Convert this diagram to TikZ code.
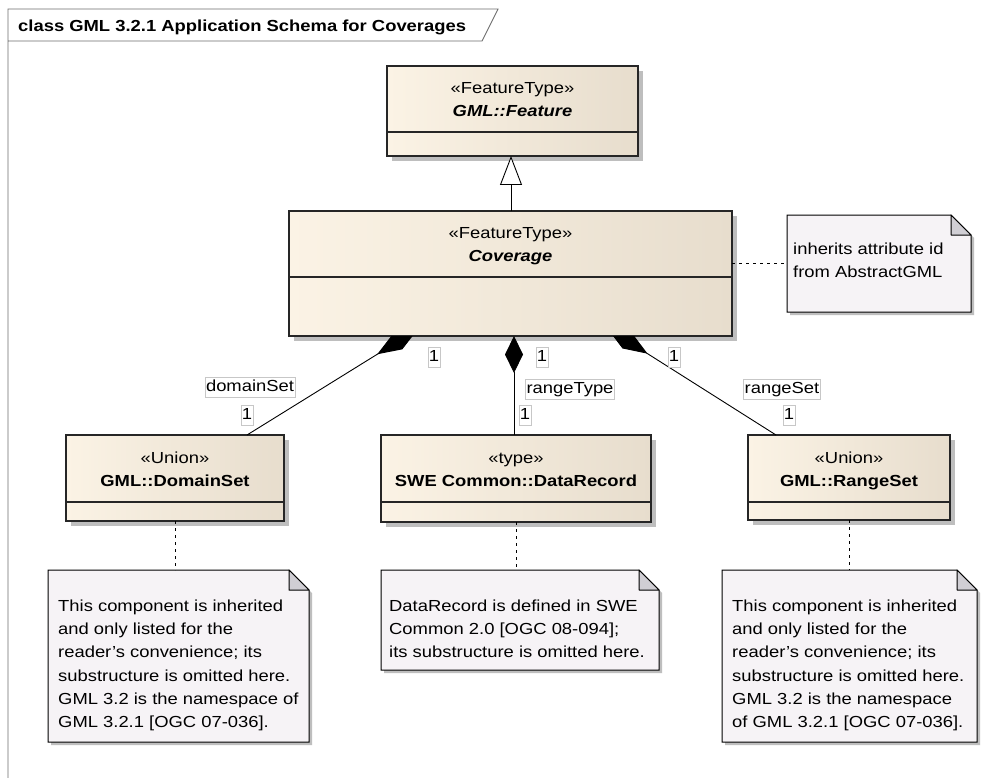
\documentclass[tikz,border=0pt]{standalone}
\usepackage{fontspec}
\setmainfont{Liberation Sans}[FakeStretch=1.15]
\usetikzlibrary{arrows.meta,shadows}

\definecolor{classL}{RGB}{251,243,229}
\definecolor{classR}{RGB}{231,221,205}
\definecolor{shadowgray}{RGB}{190,190,190}
\definecolor{notefill}{RGB}{246,243,246}
\definecolor{foldgray}{RGB}{208,206,212}
\definecolor{framegray}{RGB}{110,110,110}

\tikzset{
  frameline/.style={draw=framegray, line width=0.9pt},
  classbox/.style={draw=black!85, line width=1.3pt, left color=classL, right color=classR,
    inner sep=0pt, outer sep=0pt, anchor=north west,
    drop shadow={shadow xshift=5pt, shadow yshift=-5pt, fill=shadowgray, opacity=1}},
  compart/.style={draw=black!85, line width=1.3pt},
  stereo/.style={anchor=base, inner sep=0pt},
  cname/.style={anchor=base, inner sep=0pt, font=\fontsize{16}{19}\selectfont\bfseries},
  notebox/.style={inner sep=0pt, outer sep=0pt, anchor=north west},
  notetext/.style={anchor=north west, inner sep=0pt, align=left, font=\fontsize{16}{23.3}\selectfont},
  assoc/.style={draw=black, line width=0.9pt},
  comp/.style={assoc, -{Diamond[length=48pt,width=18pt]}},
  compmid/.style={assoc, -{Diamond[length=37pt,width=18pt]}},
  gen/.style={assoc, -{Triangle[length=29pt,width=22pt,fill=white]}},
  lbl/.style={draw=black!22, line width=0.5pt, fill=white, inner xsep=1pt, inner ysep=2pt,
    text height=12pt, text depth=3.5pt},
  anchorline/.style={draw=black, line width=1pt, dash pattern=on 3pt off 4pt},
}

% UML note: rectangle with a folded top right corner
\newcommand\umlnote[1]{%
  \fill[shadowgray] ([shift={(3,3)}]#1.north west) -- ([shift={(-17,3)}]#1.north east)
    -- ([shift={(3,23)}]#1.north east) -- ([shift={(3,3)}]#1.south east)
    -- ([shift={(3,3)}]#1.south west) -- cycle;
  \filldraw[fill=notefill, draw=black, line width=1pt] (#1.north west)
    -- ([xshift=-20pt]#1.north east) -- ([yshift=-20pt]#1.north east)
    -- (#1.south east) -- (#1.south west) -- cycle;
  \filldraw[fill=foldgray, draw=black, line width=1pt, line join=round]
    ([xshift=-20pt]#1.north east) -- ([xshift=-20pt,yshift=-20pt]#1.north east)
    -- ([yshift=-20pt]#1.north east) -- cycle;
}

\begin{document}
\begin{tikzpicture}[x=1pt, y=-1pt, font=\fontsize{16}{19}\selectfont]
\useasboundingbox (0,0) rectangle (1006,778);
\fill[white] (0,0) rectangle (1006,778);

% diagram frame and its name tab
\draw[frameline] (8,778) -- (8,9) -- (498,9) -- (482,41) -- (8,41);
\node[anchor=base west, inner sep=0pt, font=\fontsize{16}{19}\selectfont\bfseries] (title)
  at (18,32) {class GML 3.2.1 Application Schema for Coverages};

% classes
\node[classbox, minimum width=251pt, minimum height=90pt] (feature) at (387,66) {};
\draw[compart] (feature.west |- 0,132) -- (feature.east |- 0,132);
\node[stereo] (feature-st) at (feature.north |- 0,94) {«FeatureType»};
\node[cname] (feature-nm) at (feature.north |- 0,117) {\itshape GML::Feature};

\node[classbox, minimum width=443pt, minimum height=125pt] (coverage) at (289,211) {};
\draw[compart] (coverage.west |- 0,277) -- (coverage.east |- 0,277);
\node[stereo] (coverage-st) at (coverage.north |- 0,238) {«FeatureType»};
\node[cname] (coverage-nm) at (coverage.north |- 0,261) {\itshape Coverage};

\node[classbox, minimum width=218pt, minimum height=86pt] (domainset) at (66,435) {};
\draw[compart] (domainset.west |- 0,502) -- (domainset.east |- 0,502);
\node[stereo] (domainset-st) at (domainset.north |- 0,463) {«Union»};
\node[cname] (domainset-nm) at (domainset.north |- 0,486) {GML::DomainSet};

\node[classbox, minimum width=270pt, minimum height=87pt] (datarecord) at (381,435) {};
\draw[compart] (datarecord.west |- 0,502) -- (datarecord.east |- 0,502);
\node[stereo] (datarecord-st) at (datarecord.north |- 0,463) {«type»};
\node[cname] (datarecord-nm) at (datarecord.north |- 0,486) {SWE Common::DataRecord};

\node[classbox, minimum width=202pt, minimum height=85pt] (rangeset) at (748,435) {};
\draw[compart] (rangeset.west |- 0,502) -- (rangeset.east |- 0,502);
\node[stereo] (rangeset-st) at (rangeset.north |- 0,463) {«Union»};
\node[cname] (rangeset-nm) at (rangeset.north |- 0,486) {GML::RangeSet};

% generalization
\draw[gen] (coverage.north -| 511,0) -- (feature.south -| 511,0);

% compositions (side diamonds pass under the Coverage box)
\begin{scope}
  \clip (0,0 |- coverage.south) rectangle (1006,778);
  \draw[comp] (domainset.north -| 247,0) -- (418,329);
  \draw[comp] (rangeset.north -| 776,0) -- (607,328);
\end{scope}
\draw[compmid] (datarecord.north -| 514,0) -- (coverage.south -| 514,0);

% role names and multiplicities
\node[lbl] (m-dom-src) at (434,357) {1};
\node[lbl] (m-typ-src) at (542,357) {1};
\node[lbl] (m-rng-src) at (674,357) {1};
\node[lbl] (r-dom) at (250,387) {domainSet};
\node[lbl] (m-dom) at (247,415) {1};
\node[lbl] (r-typ) at (570,389) {rangeType};
\node[lbl] (m-typ) at (525,415) {1};
\node[lbl] (r-rng) at (782,389) {rangeSet};
\node[lbl] (m-rng) at (789,415) {1};

% notes
\node[notebox, minimum width=184pt, minimum height=97pt] (ninherit) at (787,215) {};
\umlnote{ninherit}
\node[notetext] (ninherit-txt) at (793,242.5) {inherits attribute id\\from AbstractGML};
\draw[anchorline] (coverage.east |- ninherit.west) -- (ninherit.west);

\node[notebox, minimum width=261pt, minimum height=172pt] (ndomain) at (48,570) {};
\umlnote{ndomain}
\node[notetext] (ndomain-txt) at (58,599.5) {This component is inherited\\and only listed for the\\reader's convenience; its\\substructure is omitted here.\\GML 3.2 is the namespace of\\GML 3.2.1 [OGC 07-036].};
\draw[anchorline] (domainset.south) -- (domainset.south |- ndomain.north);

\node[notebox, minimum width=278pt, minimum height=100pt] (nrecord) at (381,570) {};
\umlnote{nrecord}
\node[notetext] (nrecord-txt) at (389,599.5) {DataRecord is defined in SWE\\Common 2.0 [OGC 08-094];\\its substructure is omitted here.};
\draw[anchorline] (datarecord.south) -- (datarecord.south |- nrecord.north);

\node[notebox, minimum width=255pt, minimum height=172pt] (nrange) at (722,570) {};
\umlnote{nrange}
\node[notetext] (nrange-txt) at (732,599.5) {This component is inherited\\and only listed for the\\reader's convenience; its\\substructure is omitted here.\\GML 3.2 is the namespace\\of GML 3.2.1 [OGC 07-036].};
\draw[anchorline] (rangeset.south) -- (rangeset.south |- nrange.north);
\end{tikzpicture}
\end{document}
